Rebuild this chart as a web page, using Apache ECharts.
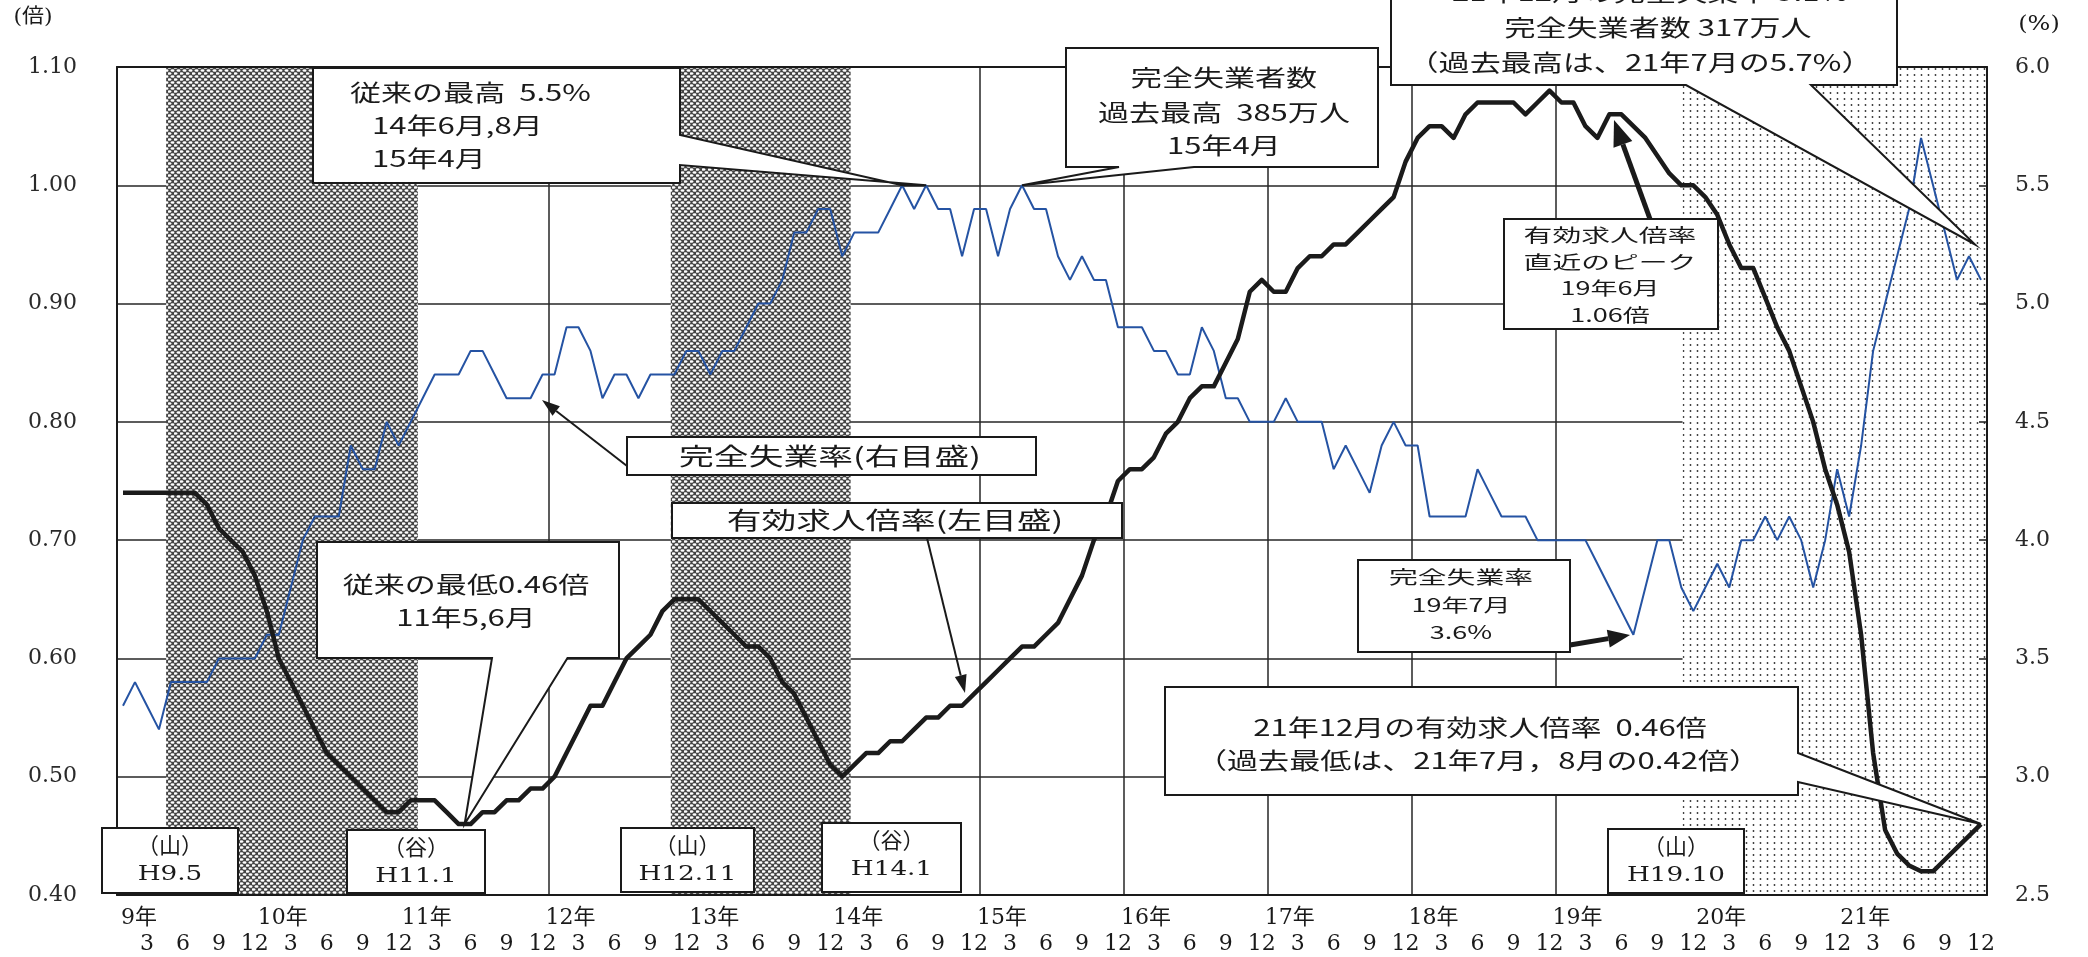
<!DOCTYPE html>
<html>
<head>
<meta charset="utf-8">
<script src="https://cdn.jsdelivr.net/npm/echarts@6/dist/echarts.min.js"></script>
<style>
html,body{margin:0;padding:0;background:#fff;}
#c{width:2088px;height:957px;}
</style>
</head>
<body>
<div id="c"></div>
<script>
// ---------------- data ----------------
const yearNums = [9, 10, 11, 12, 13, 14, 15, 16, 17, 18, 19, 20, 21];
const monthTicks = [3, 6, 9, 12];

// 有効求人倍率 (left axis), monthly from 9年1月 to 21年12月
const jobsRatio = [
  0.74, 0.74, 0.74, 0.74, 0.74, 0.74, 0.74, 0.73, 0.71, 0.70, 0.69, 0.67,
  0.64, 0.60, 0.58, 0.56, 0.54, 0.52, 0.51, 0.50, 0.49, 0.48, 0.47, 0.47,
  0.48, 0.48, 0.48, 0.47, 0.46, 0.46, 0.47, 0.47, 0.48, 0.48, 0.49, 0.49,
  0.50, 0.52, 0.54, 0.56, 0.56, 0.58, 0.60, 0.61, 0.62, 0.64, 0.65, 0.65,
  0.65, 0.64, 0.63, 0.62, 0.61, 0.61, 0.60, 0.58, 0.57, 0.55, 0.53, 0.51,
  0.50, 0.51, 0.52, 0.52, 0.53, 0.53, 0.54, 0.55, 0.55, 0.56, 0.56, 0.57,
  0.58, 0.59, 0.60, 0.61, 0.61, 0.62, 0.63, 0.65, 0.67, 0.70, 0.72, 0.75,
  0.76, 0.76, 0.77, 0.79, 0.80, 0.82, 0.83, 0.83, 0.85, 0.87, 0.91, 0.92,
  0.91, 0.91, 0.93, 0.94, 0.94, 0.95, 0.95, 0.96, 0.97, 0.98, 0.99, 1.02,
  1.04, 1.05, 1.05, 1.04, 1.06, 1.07, 1.07, 1.07, 1.07, 1.06, 1.07, 1.08,
  1.07, 1.07, 1.05, 1.04, 1.06, 1.06, 1.05, 1.04, 1.025, 1.01, 1.00, 1.00,
  0.99, 0.975, 0.95, 0.93, 0.93, 0.905, 0.88, 0.86, 0.83, 0.80, 0.76, 0.73,
  0.69, 0.62, 0.52, 0.455, 0.435, 0.425, 0.42, 0.42, 0.43, 0.44, 0.45, 0.46
];

// 完全失業率 (right axis, %)
const unempRate = [
  3.3, 3.4, 3.3, 3.2, 3.4, 3.4, 3.4, 3.4, 3.5, 3.5, 3.5, 3.5,
  3.6, 3.6, 3.8, 4.0, 4.1, 4.1, 4.1, 4.4, 4.3, 4.3, 4.5, 4.4,
  4.5, 4.6, 4.7, 4.7, 4.7, 4.8, 4.8, 4.7, 4.6, 4.6, 4.6, 4.7,
  4.7, 4.9, 4.9, 4.8, 4.6, 4.7, 4.7, 4.6, 4.7, 4.7, 4.7, 4.8,
  4.8, 4.7, 4.8, 4.8, 4.9, 5.0, 5.0, 5.1, 5.3, 5.3, 5.4, 5.4,
  5.2, 5.3, 5.3, 5.3, 5.4, 5.5, 5.4, 5.5, 5.4, 5.4, 5.2, 5.4,
  5.4, 5.2, 5.4, 5.5, 5.4, 5.4, 5.2, 5.1, 5.2, 5.1, 5.1, 4.9,
  4.9, 4.9, 4.8, 4.8, 4.7, 4.7, 4.9, 4.8, 4.6, 4.6, 4.5, 4.5,
  4.5, 4.6, 4.5, 4.5, 4.5, 4.3, 4.4, 4.3, 4.2, 4.4, 4.5, 4.4,
  4.4, 4.1, 4.1, 4.1, 4.1, 4.3, 4.2, 4.1, 4.1, 4.1, 4.0, 4.0,
  4.0, 4.0, 4.0, 3.9, 3.8, 3.7, 3.6, 3.8, 4.0, 4.0, 3.8, 3.7,
  3.8, 3.9, 3.8, 4.0, 4.0, 4.1, 4.0, 4.1, 4.0, 3.8, 4.0, 4.3,
  4.1, 4.4, 4.8, 5.0, 5.2, 5.4, 5.7, 5.5, 5.3, 5.1, 5.2, 5.1
];

// shaded recession spans in month-index units
const recessionStart = [3.6, 45.7, 130.1];
const recessionEnd   = [24.6, 60.7, 155.5];
const recessionStyle = ['dense', 'dense', 'sparse'];

// left / right axis ranges
const leftMin = 0.4, leftMax = 1.1, leftStep = 0.1;
const rightMin = 2.5, rightMax = 6.0, rightStep = 0.5;

// ---------------- build ----------------
const categories = [];
yearNums.forEach(y => { for (let m = 1; m <= 12; m++) categories.push(y + '年' + m + '月'); });
const nMonths = categories.length;

const SERIF = '"DejaVu Serif", "Liberation Serif", "Noto Sans CJK JP", serif';
const SANS = '"Noto Sans CJK JP", "Noto Sans", sans-serif';
const INK = '#1a1a1a';

function densePattern() {
  const c = document.createElement('canvas'); c.width = 6; c.height = 6;
  const g = c.getContext('2d');
  g.fillStyle = '#454545'; g.fillRect(0, 0, 6, 6);
  g.fillStyle = '#ffffff';
  const ell = (x, y) => { g.beginPath(); g.ellipse(x, y, 1.95, 1.35, 0, 0, Math.PI * 2); g.fill(); };
  ell(1.5, 1.5); ell(4.5, 4.5); ell(7.5, 4.5); ell(-1.5, 4.5);
  ell(1.5, 7.5); ell(4.5, -1.5);
  return c;
}
function sparsePattern() {
  const c = document.createElement('canvas'); c.width = 7; c.height = 6;
  const g = c.getContext('2d');
  g.fillStyle = '#ffffff'; g.fillRect(0, 0, 7, 6);
  g.fillStyle = '#333333';
  g.beginPath(); g.arc(3.5, 3, 0.9, 0, Math.PI * 2); g.fill();
  return c;
}
const patterns = { dense: densePattern(), sparse: sparsePattern() };

const chart = echarts.init(document.getElementById('c'), null, { renderer: 'canvas' });

const AXFONT = 22;
const option = {
  animation: false,
  backgroundColor: '#ffffff',
  grid: { left: 117, right: 101, top: 67, bottom: 62, containLabel: false },
  xAxis: [
    {
      type: 'category', data: categories, boundaryGap: true, position: 'bottom', z: 10,
      axisLine: { show: true, onZero: false, lineStyle: { color: INK, width: 2 } },
      axisTick: { show: false }, splitLine: { show: false },
      axisLabel: {
        interval: 0, margin: 38, color: INK, fontFamily: SERIF, fontSize: AXFONT,
        formatter: (v, i) => { const m = (i % 12) + 1; return monthTicks.includes(m) ? String(m) : ''; }
      }
    },
    {
      type: 'category', data: categories, boundaryGap: true, position: 'bottom',
      axisLine: { show: false }, axisTick: { show: false }, splitLine: { show: false },
      axisLabel: {
        interval: 0, margin: 12, color: INK, fontFamily: SERIF, fontSize: AXFONT, padding: [0, 0, 0, 8],
        formatter: (v, i) => (i % 12 === 1) ? yearNums[Math.floor(i / 12)] + '年' : ''
      }
    },
    {
      // month-index scale used for the shaded spans and the top border
      type: 'value', min: -0.5, max: nMonths - 0.5, position: 'top', z: 10,
      axisLine: { show: true, onZero: false, lineStyle: { color: INK, width: 2 } },
      axisTick: { show: false }, axisLabel: { show: false }, splitLine: { show: false }
    },
    {
      // year boundaries (month-boundary scale, one split line every 12 months)
      type: 'value', min: 0, max: nMonths, interval: 12, position: 'top',
      axisLine: { show: false }, axisTick: { show: false }, axisLabel: { show: false },
      splitLine: { show: true, lineStyle: { color: '#262626', width: 1.5 } }
    }
  ],
  yAxis: [
    {
      type: 'value', min: leftMin, max: leftMax, interval: leftStep, position: 'left',
      axisLine: { show: true, onZero: false, lineStyle: { color: INK, width: 2 } },
      axisTick: { show: false },
      axisLabel: { formatter: v => v.toFixed(2), margin: 40, color: '#2a2a2a', fontFamily: SERIF, fontSize: AXFONT },
      splitLine: { show: true, lineStyle: { color: '#262626', width: 1.5 } }
    },
    {
      type: 'value', min: rightMin, max: rightMax, interval: rightStep, position: 'right', z: 10,
      axisLine: { show: true, onZero: false, lineStyle: { color: INK, width: 2 } },
      axisTick: { show: true, inside: true, length: 8, lineStyle: { color: INK, width: 1.5 } },
      axisLabel: { formatter: v => v.toFixed(1), margin: 28, color: '#2a2a2a', fontFamily: SERIF, fontSize: AXFONT },
      splitLine: { show: false }
    }
  ],
  series: [
    {
      type: 'line', name: 'recession', xAxisIndex: 2, yAxisIndex: 0, data: [], z: 2, silent: true,
      markArea: {
        silent: true, label: { show: false }, animation: false,
        emphasis: { disabled: true },
        data: recessionStart.map((s, i) => [
          { xAxis: s, itemStyle: { color: { image: patterns[recessionStyle[i]], repeat: 'repeat' }, opacity: 1 } },
          { xAxis: recessionEnd[i] }
        ])
      }
    },
    {
      type: 'line', name: '完全失業率', xAxisIndex: 0, yAxisIndex: 1, data: unempRate, z: 4,
      showSymbol: false, symbol: 'none', silent: true,
      lineStyle: { color: '#2553a3', width: 2 }
    },
    {
      type: 'line', name: '有効求人倍率', xAxisIndex: 0, yAxisIndex: 0, data: jobsRatio, z: 5,
      showSymbol: false, symbol: 'none', silent: true,
      lineStyle: { color: '#1b1b1b', width: 4.5, join: 'round' }
    }
  ]
};
chart.setOption(option);

// ---------------- annotations ----------------
const px = (i) => chart.convertToPixel({ xAxisIndex: 2 }, i);
const pyL = (v) => chart.convertToPixel({ yAxisIndex: 0 }, v);
const pyR = (v) => chart.convertToPixel({ yAxisIndex: 1 }, v);

const Z = 100;
function txt(x, y, s, size, opt) {
  opt = opt || {};
  return {
    type: 'text', x: x, y: y, scaleX: opt.sx || 1.35, z: Z + 2, silent: true,
    style: {
      text: s, x: 0, y: 0, fill: INK,
      font: (opt.weight || 'normal') + ' ' + size + 'px ' + (opt.font || SANS),
      textAlign: opt.align || 'center', textVerticalAlign: 'middle', verticalAlign: 'middle'
    }
  };
}
function box(l, t, r, b) {
  return { type: 'rect', z: Z, silent: true, shape: { x: l, y: t, width: r - l, height: b - t },
    style: { fill: '#ffffff', stroke: INK, lineWidth: 2 } };
}
function poly(points) {
  return { type: 'polygon', z: Z, silent: true, shape: { points: points },
    style: { fill: '#ffffff', stroke: INK, lineWidth: 2, lineJoin: 'miter' } };
}
function arrow(x1, y1, x2, y2, w, hl, hw) {
  const dx = x2 - x1, dy = y2 - y1, L = Math.hypot(dx, dy), ux = dx / L, uy = dy / L;
  const bx = x2 - ux * hl, by = y2 - uy * hl, nx = -uy, ny = ux;
  return [
    { type: 'line', z: Z + 3, silent: true, shape: { x1: x1, y1: y1, x2: bx, y2: by }, style: { stroke: INK, lineWidth: w } },
    { type: 'polygon', z: Z + 3, silent: true,
      shape: { points: [[x2, y2], [bx + nx * hw / 2, by + ny * hw / 2], [bx - nx * hw / 2, by - ny * hw / 2]] },
      style: { fill: INK } }
  ];
}

const tipA1 = [px(65), pyR(unempRate[65])];
const tipA2 = [px(67), pyR(unempRate[67])];
const tipB = [px(75), pyR(unempRate[75])];
const tipC = [px(154.5), pyR(5.25)];
const tipF = [px(28.5), pyL(jobsRatio[28])];
const tipI = [px(155), pyL(jobsRatio[155])];

const g = [];
// units
g.push(txt(33, 18, '(倍)', 20, { font: SERIF, sx: 1.1 }));
g.push(txt(2039, 25, '(%)', 20, { font: SERIF, sx: 1.2 }));

// A: 従来の最高
g.push(poly([[313, 68], [680, 68], [680, 135], tipA1, tipA2, [680, 165], [680, 183], [313, 183]]));
g.push(txt(350, 92, '従来の最高  5.5%', 23, { align: 'left' }));
g.push(txt(372, 125, '14年6月,8月', 23, { align: 'left' }));
g.push(txt(372, 158, '15年4月', 23, { align: 'left' }));

// B: 完全失業者数 過去最高
g.push(poly([[1066, 48], [1378, 48], [1378, 167], [1194, 167], tipB, [1119, 167], [1066, 167]]));
g.push(txt(1224, 77, '完全失業者数', 23));
g.push(txt(1224, 112, '過去最高  385万人', 23));
g.push(txt(1224, 145, '15年4月', 23));

// C: top right
g.push(poly([[1391, -10], [1897, -10], [1897, 85], [1811, 85], tipC, [1686, 85], [1391, 85]]));
g.push(txt(1650, -8, '21年12月の完全失業率 5.1%', 23));
g.push(txt(1658, 27, '完全失業者数 317万人', 23));
g.push(txt(1640, 62, '（過去最高は、21年7月の5.7%）', 23));

// D: 完全失業率(右目盛)
g.push(box(627, 437, 1036, 475));
g.push(txt(830, 456, '完全失業率(右目盛)', 24, { sx: 1.45 }));
g.push(...arrow(627, 466, 542, 400, 2, 18, 12));

// E: 有効求人倍率(左目盛)
g.push(box(672, 503, 1122, 538));
g.push(txt(895, 520, '有効求人倍率(左目盛)', 24, { sx: 1.45 }));
g.push(...arrow(927, 538, 965, 693, 2, 18, 12));

// F: 従来の最低
g.push(poly([[317, 542], [619, 542], [619, 658], [567.5, 658], tipF, [492, 658], [317, 658]]));
g.push(txt(466, 584, '従来の最低0.46倍', 23));
g.push(txt(466, 617, '11年5,6月', 23));

// G: 直近のピーク
g.push(box(1504, 219, 1718, 329));
g.push(txt(1610, 235, '有効求人倍率', 18, { sx: 1.6 }));
g.push(txt(1610, 262, '直近のピーク', 18, { sx: 1.6 }));
g.push(txt(1610, 288, '19年6月', 18, { sx: 1.5 }));
g.push(txt(1610, 315, '1.06倍', 18, { sx: 1.5 }));
g.push(...arrow(1650, 219, 1614, 120, 5, 26, 20));

// H: 完全失業率 19年7月
g.push(box(1358, 560, 1570, 652));
g.push(txt(1461, 577, '完全失業率', 18, { sx: 1.6 }));
g.push(txt(1461, 605, '19年7月', 18, { sx: 1.5 }));
g.push(txt(1461, 632, '3.6%', 18, { sx: 1.5 }));
g.push(...arrow(1570, 645, 1630, 635, 5, 22, 18));

// I: 21年12月の有効求人倍率
g.push(poly([[1165, 687], [1798, 687], [1798, 753], tipI, [1798, 782], [1798, 795], [1165, 795]]));
g.push(txt(1480, 727, '21年12月の有効求人倍率  0.46倍', 23));
g.push(txt(1478, 760, '（過去最低は、21年7月，8月の0.42倍）', 23));

// business-cycle labels
const cyc = [
  [102, 828, 238, 893, '（山）', 'H9.5'],
  [347, 830, 485, 893, '（谷）', 'H11.1'],
  [621, 828, 754, 892, '（山）', 'H12.11'],
  [822, 823, 961, 892, '（谷）', 'H14.1'],
  [1608, 829, 1744, 893, '（山）', 'H19.10']
];
cyc.forEach(c => {
  g.push(box(c[0], c[1], c[2], c[3]));
  const cx = (c[0] + c[2]) / 2;
  g.push(txt(cx, c[1] + 19, c[4], 22, { font: SERIF, sx: 1.0 }));
  g.push(txt(cx, c[1] + 47, c[5], 21, { font: SERIF, sx: 1.25 }));
});

chart.setOption({ graphic: { elements: g } });
</script>
</body>
</html>
